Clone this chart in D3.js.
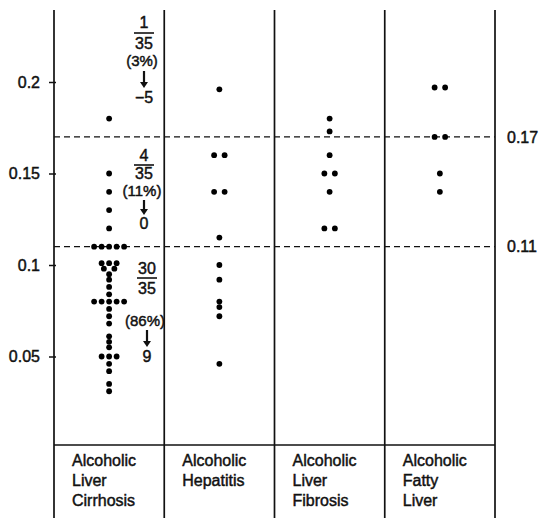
<!DOCTYPE html>
<html>
<head>
<meta charset="utf-8">
<script src="https://cdn.jsdelivr.net/npm/d3@7"></script>
<style>
  body { margin: 0; background: #fff; }
  text { font-family: "Liberation Sans", Arial, sans-serif; fill: #111; stroke: #111; stroke-width: 0.45; }
</style>
</head>
<body>
<svg width="541" height="518"></svg>
<script>
// categories shown in the table under the plot
const categories = ["Alcoholic Liver Cirrhosis", "Alcoholic Hepatitis", "Alcoholic Liver Fibrosis", "Alcoholic Fatty Liver"]
const categoryLines = [["Alcoholic", "Liver", "Cirrhosis"], ["Alcoholic", "Hepatitis"], ["Alcoholic", "Liver", "Fibrosis"], ["Alcoholic", "Fatty", "Liver"]]

// one value per patient
const cirrhosis = [0.18, 0.15, 0.14, 0.13, 0.12,
  0.11, 0.11, 0.11, 0.11, 0.11,
  0.101, 0.101, 0.101, 0.098, 0.098, 0.095, 0.092, 0.088, 0.084,
  0.08, 0.08, 0.08, 0.08, 0.08,
  0.076, 0.072, 0.068, 0.061, 0.058, 0.055,
  0.05, 0.05, 0.05, 0.046, 0.042, 0.035, 0.031]
const hepatitis = [0.196, 0.16, 0.16, 0.14, 0.14, 0.115, 0.1, 0.092, 0.08, 0.077, 0.072, 0.046]
const fibrosis = [0.18, 0.173, 0.16, 0.15, 0.15, 0.14, 0.12, 0.12]
const fattyLiver = [0.197, 0.197, 0.17, 0.17, 0.15, 0.14]

const tickValues = [0.05, 0.1, 0.15, 0.2]
const tickLabels = ["0.05", "0.1", "0.15", "0.2"]
const cutoffs = [0.17, 0.11]
const cutoffLabels = ["0.17", "0.11"]

const annotations = [
  {num: "1", den: "35", pct: "(3%)", result: "\u22125"},
  {num: "4", den: "35", pct: "(11%)", result: "0"},
  {num: "30", den: "35", pct: "(86%)", result: "9"}
]
// layout of each annotation block (baselines of num / den / pct / result, bar y, arrow top/tip)
const annLayout = [
  {x: 144, num: 28, bar: 33, den: 49, pct: 66, a1: 71, a2: 88, res: 103},
  {x: 144, num: 161, bar: 165, den: 179, pct: 196, a1: 200, a2: 215, res: 229},
  {x: 147, num: 274, bar: 278, den: 294, pct: 326, a1: 330, a2: 347, res: 362}
]

const svg = d3.select("svg")
const plotLeft = 54, plotRight = 495, plotTop = 10, plotBottom = 518, tableTop = 445

const x = d3.scaleBand().domain(categories).range([plotLeft, plotRight])
const y = d3.scaleLinear().domain([0, 0.2]).range([448, 82])

// frame: axis line, column separators, right border
const frame = svg.append("g").attr("stroke", "#111").attr("stroke-width", 1.7)
categories.forEach(c => {
  frame.append("line").attr("x1", x(c)).attr("x2", x(c)).attr("y1", plotTop).attr("y2", plotBottom)
})
frame.append("line").attr("x1", plotRight).attr("x2", plotRight).attr("y1", plotTop).attr("y2", plotBottom)
frame.append("line").attr("x1", plotLeft).attr("x2", plotRight).attr("y1", tableTop).attr("y2", tableTop)

// left axis
const axis = svg.append("g")
  .attr("transform", "translate(" + plotLeft + ",0)")
  .call(d3.axisLeft(y)
    .tickValues(tickValues)
    .tickFormat((d, i) => tickLabels[i])
    .tickSize(5)
    .tickSizeOuter(0)
    .tickPadding(9))
axis.select(".domain").remove()
axis.selectAll(".tick line").attr("x1", 2).attr("stroke", "#111").attr("stroke-width", 1.5)
axis.selectAll(".tick text")
  .style("font-family", "'Liberation Sans', Arial, sans-serif")
  .style("font-size", "16px")
  .attr("fill", "#111")

// cutoff lines
const cut = svg.append("g")
cut.selectAll("line").data(cutoffs).enter().append("line")
  .attr("x1", plotLeft).attr("x2", plotRight)
  .attr("y1", d => y(d)).attr("y2", d => y(d))
  .attr("stroke", "#111").attr("stroke-width", 1.3)
  .attr("stroke-dasharray", "6,4")
cut.selectAll("text").data(cutoffs).enter().append("text")
  .attr("x", plotRight + 12)
  .attr("y", d => y(d))
  .attr("dy", "0.36em")
  .style("font-size", "16px")
  .text((d, i) => cutoffLabels[i])

// dots, equal values spread sideways
const series = [cirrhosis, hepatitis, fibrosis, fattyLiver]
const dots = []
series.forEach((vals, i) => {
  d3.group(vals, v => v).forEach((arr, v) => {
    const n = arr.length
    const step = n > 2 ? 7.5 : 10.5
    arr.forEach((_, j) => dots.push({cat: categories[i], v: v, off: (j - (n - 1) / 2) * step}))
  })
})
svg.append("g").selectAll("circle").data(dots).enter().append("circle")
  .attr("cx", d => x(d.cat) + x.bandwidth() / 2 + d.off)
  .attr("cy", d => y(d.v))
  .attr("r", 2.9)
  .attr("fill", "#000")

// annotations in the cirrhosis column
const ann = svg.append("g")
annotations.forEach((a, i) => {
  const L = annLayout[i]
  const g = ann.append("g")
  g.append("text").attr("x", L.x).attr("y", L.num).attr("text-anchor", "middle").style("font-size", "16px").text(a.num)
  g.append("line").attr("x1", L.x - 10).attr("x2", L.x + 10).attr("y1", L.bar).attr("y2", L.bar)
    .attr("stroke", "#111").attr("stroke-width", 1.6)
  g.append("text").attr("x", L.x).attr("y", L.den).attr("text-anchor", "middle").style("font-size", "16px").text(a.den)
  g.append("text").attr("x", L.x - 2).attr("y", L.pct).attr("text-anchor", "middle").style("font-size", "15px").text(a.pct)
  g.append("line").attr("x1", L.x).attr("x2", L.x).attr("y1", L.a1).attr("y2", L.a2 - 5)
    .attr("stroke", "#111").attr("stroke-width", 2.2)
  g.append("path")
    .attr("d", "M" + (L.x - 4) + "," + (L.a2 - 6) + "L" + (L.x + 4) + "," + (L.a2 - 6) + "L" + L.x + "," + L.a2 + "Z")
    .attr("fill", "#111")
  g.append("text").attr("x", L.x).attr("y", L.res).attr("text-anchor", "middle").style("font-size", "16px").text(a.result)
})

// category labels in the table
const labels = svg.append("g")
categories.forEach((c, i) => {
  const t = labels.append("text")
    .attr("x", x(c) + 18)
    .attr("y", 466)
    .style("font-size", "16px")
  categoryLines[i].forEach((line, j) => {
    t.append("tspan").attr("x", x(c) + 18).attr("dy", j === 0 ? 0 : 20).text(line)
  })
})
</script>
</body>
</html>
